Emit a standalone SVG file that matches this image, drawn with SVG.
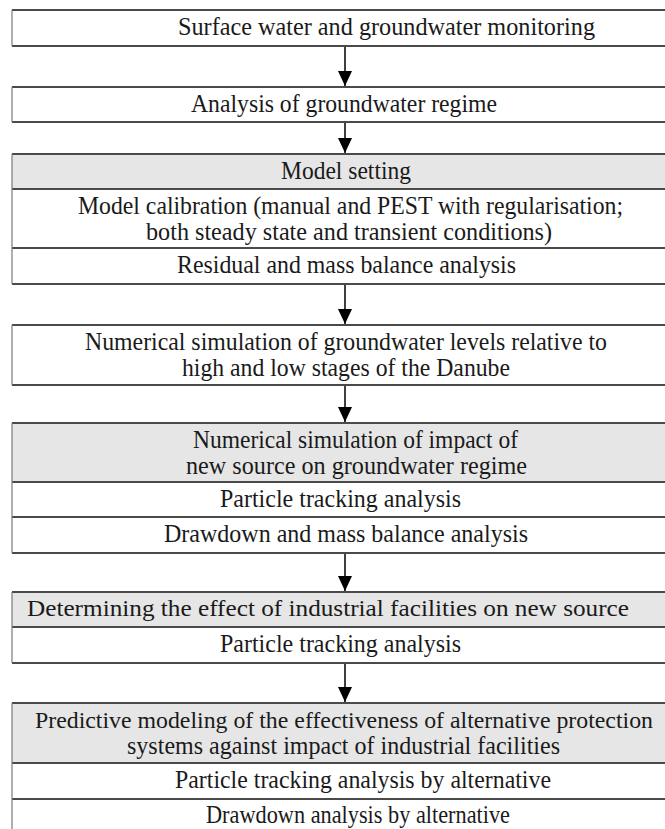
<svg xmlns="http://www.w3.org/2000/svg" width="665" height="829" viewBox="0 0 665 829">
<style>
.w{fill:#ffffff}
.g{fill:#e6e6e6}
.h{stroke:#4a4a4a;stroke-width:2;fill:none}
.v{stroke:#7a7a7a;stroke-width:1.2;fill:none}
text{font-family:"Liberation Serif","DejaVu Serif",serif;font-size:25px;fill:#1a1a1a;text-anchor:middle}
.s{font-size:23px}
.c{stroke:#000;stroke-width:1.5;fill:none}
</style>
<defs>
<marker id="ah" markerWidth="15" markerHeight="14" refX="15" refY="7" orient="auto" markerUnits="userSpaceOnUse" viewBox="0 0 15 14">
<path d="M0,0 L15,7 L0,14 Z" fill="#000"/>
</marker>
</defs>
<rect x="0" y="0" width="665" height="829" fill="#fff"/>

<g id="n1">
<rect class="w" x="12" y="10" width="670" height="36"/>
<line class="h" x1="12" y1="10" x2="665" y2="10"/><line class="h" x1="12" y1="46" x2="665" y2="46"/>
<line class="v" x1="12" y1="10" x2="12" y2="46"/>
<text x="386.5" y="35" textLength="417" lengthAdjust="spacingAndGlyphs">Surface water and groundwater monitoring</text>
</g>

<g id="n2">
<rect class="w" x="12" y="87" width="670" height="35"/>
<line class="h" x1="12" y1="87" x2="665" y2="87"/><line class="h" x1="12" y1="122" x2="665" y2="122"/>
<line class="v" x1="12" y1="87" x2="12" y2="122"/>
<text x="344" y="112" textLength="306" lengthAdjust="spacingAndGlyphs">Analysis of groundwater regime</text>
</g>

<g id="n3">
<rect class="g" x="12" y="154" width="670" height="35"/>
<rect class="w" x="12" y="189" width="670" height="95"/>
<line class="h" x1="12" y1="154" x2="665" y2="154"/><line class="h" x1="12" y1="189" x2="665" y2="189"/>
<line class="h" x1="12" y1="248" x2="665" y2="248"/><line class="h" x1="12" y1="284" x2="665" y2="284"/>
<line class="v" x1="12" y1="154" x2="12" y2="284"/>
<text x="346" y="179" textLength="130" lengthAdjust="spacingAndGlyphs">Model setting</text>
<text x="350.5" y="214" textLength="545" lengthAdjust="spacingAndGlyphs">Model calibration (manual and PEST with regularisation;</text>
<text x="349" y="240" textLength="406" lengthAdjust="spacingAndGlyphs">both steady state and transient conditions)</text>
<text x="346.5" y="273" textLength="339" lengthAdjust="spacingAndGlyphs">Residual and mass balance analysis</text>
</g>

<g id="n4">
<rect class="w" x="12" y="325" width="670" height="60"/>
<line class="h" x1="12" y1="325" x2="665" y2="325"/><line class="h" x1="12" y1="385" x2="665" y2="385"/>
<line class="v" x1="12" y1="325" x2="12" y2="385"/>
<text x="346" y="350" textLength="522" lengthAdjust="spacingAndGlyphs">Numerical simulation of groundwater levels relative to</text>
<text x="346" y="376" textLength="328" lengthAdjust="spacingAndGlyphs">high and low stages of the Danube</text>
</g>

<g id="n5">
<rect class="g" x="12" y="423" width="670" height="59"/>
<rect class="w" x="12" y="482" width="670" height="71"/>
<line class="h" x1="12" y1="423" x2="665" y2="423"/><line class="h" x1="12" y1="482" x2="665" y2="482"/>
<line class="h" x1="12" y1="517" x2="665" y2="517"/><line class="h" x1="12" y1="553" x2="665" y2="553"/>
<line class="v" x1="12" y1="423" x2="12" y2="553"/>
<text x="355.5" y="448" textLength="325" lengthAdjust="spacingAndGlyphs">Numerical simulation of impact of</text>
<text x="356.5" y="474" textLength="341" lengthAdjust="spacingAndGlyphs">new source on groundwater regime</text>
<text x="340.5" y="507" textLength="241" lengthAdjust="spacingAndGlyphs">Particle tracking analysis</text>
<text x="346" y="542" textLength="364" lengthAdjust="spacingAndGlyphs">Drawdown and mass balance analysis</text>
</g>

<g id="n6">
<rect class="g" x="12" y="592" width="670" height="35"/>
<rect class="w" x="12" y="627" width="670" height="36"/>
<line class="h" x1="12" y1="592" x2="665" y2="592"/><line class="h" x1="12" y1="627" x2="665" y2="627"/>
<line class="h" x1="12" y1="663" x2="665" y2="663"/>
<line class="v" x1="12" y1="592" x2="12" y2="663"/>
<text class="s" x="328" y="616" textLength="602" lengthAdjust="spacingAndGlyphs">Determining the effect of industrial facilities on new source</text>
<text x="340.5" y="652" textLength="241" lengthAdjust="spacingAndGlyphs">Particle tracking analysis</text>
</g>

<g id="n7">
<rect class="g" x="12" y="703" width="670" height="60"/>
<rect class="w" x="12" y="763" width="670" height="80"/>
<line class="h" x1="12" y1="703" x2="665" y2="703"/><line class="h" x1="12" y1="763" x2="665" y2="763"/>
<line class="h" x1="12" y1="799" x2="665" y2="799"/>
<line class="v" x1="12" y1="703" x2="12" y2="829"/>
<text class="s" x="344" y="728" textLength="618" lengthAdjust="spacingAndGlyphs">Predictive modeling of the effectiveness of alternative protection</text>
<text x="343.5" y="754" textLength="433" lengthAdjust="spacingAndGlyphs">systems against impact of industrial facilities</text>
<text x="363" y="788" textLength="376" lengthAdjust="spacingAndGlyphs">Particle tracking analysis by alternative</text>
<text x="358" y="823" textLength="304" lengthAdjust="spacingAndGlyphs">Drawdown analysis by alternative</text>
</g>

<g id="connectors">
<line class="c" x1="345" y1="47" x2="345" y2="86" marker-end="url(#ah)"/>
<line class="c" x1="345" y1="123" x2="345" y2="153" marker-end="url(#ah)"/>
<line class="c" x1="345" y1="285" x2="345" y2="324" marker-end="url(#ah)"/>
<line class="c" x1="345" y1="386" x2="345" y2="422" marker-end="url(#ah)"/>
<line class="c" x1="345" y1="554" x2="345" y2="591" marker-end="url(#ah)"/>
<line class="c" x1="345" y1="664" x2="345" y2="702" marker-end="url(#ah)"/>
</g>
</svg>
